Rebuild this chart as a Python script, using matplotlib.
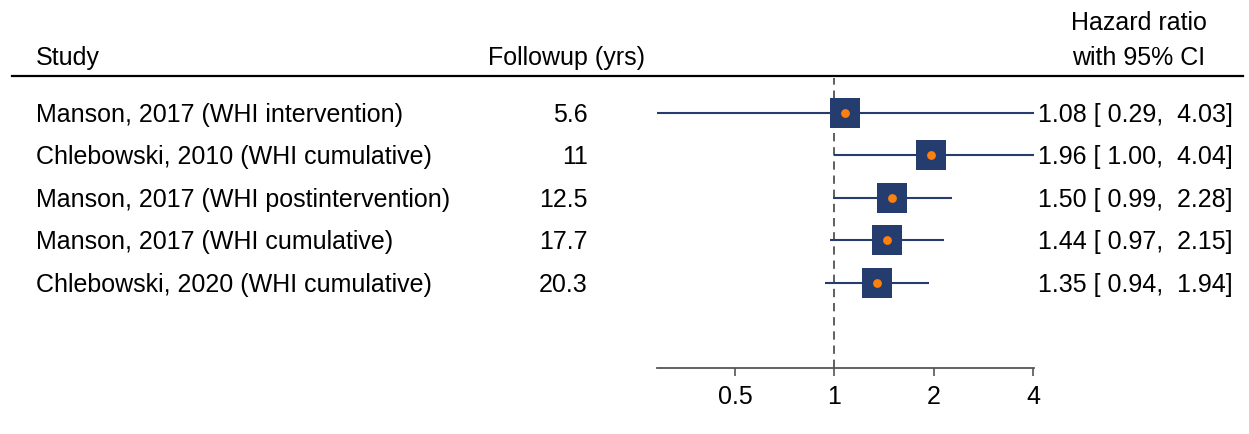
import matplotlib
matplotlib.use("Agg")
import matplotlib.pyplot as plt
import matplotlib.transforms as mtransforms
from matplotlib.lines import Line2D

plt.rcParams["font.family"] = ["Liberation Sans", "DejaVu Sans"]

studies = [
    "Manson, 2017 (WHI intervention)",
    "Chlebowski, 2010 (WHI cumulative)",
    "Manson, 2017 (WHI postintervention)",
    "Manson, 2017 (WHI cumulative)",
    "Chlebowski, 2020 (WHI cumulative)",
]
followup = ["5.6", "11", "12.5", "17.7", "20.3"]
hr = [1.08, 1.96, 1.50, 1.44, 1.35]
ci_low = [0.29, 1.00, 0.99, 0.97, 0.94]
ci_high = [4.03, 4.04, 2.28, 2.15, 1.94]
xticks = [0.5, 1, 2, 4]

navy = "#253d6e"
orange = "#ff7f0e"
fs = 18

fig = plt.figure(figsize=(12.49, 4.34), dpi=100)
W, H = 1249, 434
ax = fig.add_axes([657 / W, (H - 368) / H, (1034 - 657) / W, (368 - 78) / H])

ax.set_xscale("log", base=2)
ax.set_xlim(0.29, 4.03)
ax.set_ylim(6.0, -0.82)

rows = list(range(len(studies)))
for i in rows:
    ax.plot([ci_low[i], ci_high[i]], [i, i], color=navy, lw=1.5,
            solid_capstyle="butt", zorder=2)
ax.scatter(hr, rows, marker="s", s=28 ** 2 * 0.6, color=navy, zorder=3,
           linewidths=0)
ax.scatter(hr, rows, marker="o", s=40, color=orange, zorder=4, linewidths=0)
ax.axvline(1, color="#444444", lw=1.2, ls=(0, (5, 3.5)), zorder=1)

for s in ["top", "left", "right"]:
    ax.spines[s].set_visible(False)
ax.spines["bottom"].set_color("#555555")
ax.spines["bottom"].set_linewidth(1.3)
ax.set_yticks([])
ax.set_xticks(xticks)
ax.set_xticklabels([f"{t:g}" for t in xticks], fontsize=fs)
ax.xaxis.set_minor_locator(matplotlib.ticker.NullLocator())
ax.tick_params(axis="x", length=6, width=1.2, color="#555555", pad=6)

# text columns aligned with rows
trans = mtransforms.blended_transform_factory(fig.transFigure, ax.transData)
for i in rows:
    ax.text(36 / W, i + 0.04, studies[i], transform=trans, ha="left",
            va="center", fontsize=fs)
    ax.text(588 / W, i + 0.04, followup[i], transform=trans, ha="right",
            va="center", fontsize=fs)
    ax.text(1233 / W, i + 0.04,
            f"{hr[i]:.2f} [{ci_low[i]:5.2f}, {ci_high[i]:5.2f}]",
            transform=trans, ha="right", va="center", fontsize=fs)

# headers
fig.text(36 / W, 1 - 58 / H, "Study", ha="left", va="center", fontsize=fs)
fig.text(567 / W, 1 - 58 / H, "Followup (yrs)", ha="center", va="center",
         fontsize=fs)
fig.text(1139 / W, 1 - 23 / H, "Hazard ratio", ha="center", va="center",
         fontsize=fs)
fig.text(1139 / W, 1 - 58 / H, "with 95% CI", ha="center", va="center",
         fontsize=fs)
fig.add_artist(Line2D([12 / W, 1243 / W], [1 - 76 / H, 1 - 76 / H],
                      transform=fig.transFigure, color="black", lw=1.6))

fig.savefig("out.png", dpi=100)
